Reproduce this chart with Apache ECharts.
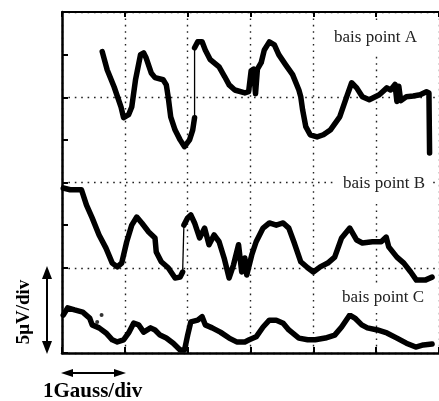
<!DOCTYPE html>
<html>
<head>
<meta charset="utf-8">
<script src="https://cdn.jsdelivr.net/npm/echarts@6/dist/echarts.min.js"></script>
<style>
  html, body { margin: 0; padding: 0; background: #fff; }
  #chart { width: 439px; height: 401px; }
</style>
</head>
<body>
<div id="chart"></div>
<script>
// x in field divisions (1 Gauss/div), y in signal divisions (5 uV/div)

// bias point A
const curveA1 = [
  [0.64, 7.07], [0.72, 6.64], [0.83, 6.24], [0.94, 5.77], [0.98, 5.52], [1.06, 5.59],
  [1.11, 5.77], [1.17, 6.41], [1.25, 7.00], [1.30, 7.04], [1.34, 6.92], [1.42, 6.57],
  [1.48, 6.46], [1.61, 6.41], [1.66, 6.29], [1.69, 6.01], [1.73, 5.54], [1.80, 5.23],
  [1.88, 5.00], [1.95, 4.84], [2.03, 5.00], [2.08, 5.23], [2.11, 5.52]
];
const jumpA = [[2.11, 5.52], [2.11, 7.16]];
const curveA2 = [
  [2.11, 7.16], [2.16, 7.30], [2.23, 7.30], [2.28, 7.11], [2.36, 6.88], [2.50, 6.71],
  [2.59, 6.48], [2.66, 6.29], [2.75, 6.17], [2.91, 6.10], [2.97, 6.13], [3.01, 6.62],
  [3.05, 6.66], [3.08, 6.08], [3.11, 6.66], [3.17, 6.81], [3.22, 7.11], [3.30, 7.30],
  [3.38, 7.23], [3.45, 7.00], [3.56, 6.76], [3.67, 6.53], [3.77, 6.17], [3.80, 6.01],
  [3.83, 5.70], [3.88, 5.31], [3.95, 5.12], [4.06, 5.07], [4.16, 5.12], [4.27, 5.23],
  [4.42, 5.54], [4.53, 6.01], [4.61, 6.34], [4.69, 6.22], [4.78, 6.01], [4.89, 5.94],
  [5.05, 6.06], [5.17, 6.22], [5.23, 6.17], [5.30, 6.30], [5.33, 5.90], [5.36, 6.26],
  [5.39, 5.92], [5.48, 6.01], [5.59, 6.03], [5.70, 6.06], [5.80, 6.13], [5.84, 6.10],
  [5.85, 4.69]
];

// bias point B
const curveB1 = [
  [0.02, 3.87], [0.13, 3.83], [0.31, 3.83], [0.39, 3.47], [0.48, 3.17], [0.59, 2.77],
  [0.70, 2.46], [0.80, 2.11], [0.88, 2.02], [0.95, 2.11], [1.03, 2.61], [1.11, 3.00],
  [1.19, 3.19], [1.27, 3.05], [1.38, 2.84], [1.48, 2.70], [1.50, 2.37], [1.58, 2.14],
  [1.69, 2.00], [1.80, 1.76], [1.88, 1.78], [1.92, 1.90]
];
const jumpB = [[1.92, 1.90], [1.94, 3.00]];
const curveB2 = [
  [1.94, 3.00], [2.00, 3.17], [2.05, 3.24], [2.11, 3.05], [2.19, 2.70], [2.27, 2.93],
  [2.34, 2.54], [2.42, 2.77], [2.50, 2.61], [2.58, 2.23], [2.66, 1.76], [2.73, 2.07],
  [2.81, 2.54], [2.86, 1.90], [2.91, 2.23], [2.94, 1.83], [3.02, 2.30], [3.09, 2.61],
  [3.20, 2.93], [3.30, 3.05], [3.41, 3.00], [3.52, 3.05], [3.61, 2.93], [3.69, 2.61],
  [3.80, 2.14], [3.91, 2.00], [4.00, 1.90], [4.11, 2.02], [4.23, 2.11], [4.34, 2.25],
  [4.45, 2.70], [4.58, 2.93], [4.69, 2.65], [4.78, 2.58], [4.94, 2.61], [5.08, 2.61],
  [5.16, 2.72], [5.20, 2.49], [5.33, 2.25], [5.44, 2.11], [5.55, 1.90], [5.64, 1.71],
  [5.78, 1.71], [5.89, 1.78]
];

// bias point C
const curveC = [
  [0.02, 0.89], [0.09, 1.06], [0.20, 1.01], [0.33, 0.96], [0.44, 0.82], [0.48, 0.66],
  [0.59, 0.59], [0.70, 0.47], [0.80, 0.31], [0.88, 0.26], [0.98, 0.31], [1.06, 0.47],
  [1.14, 0.70], [1.22, 0.66], [1.30, 0.49], [1.41, 0.59], [1.48, 0.54], [1.56, 0.42],
  [1.66, 0.35], [1.77, 0.23], [1.88, 0.07], [1.95, 0.07], [2.00, 0.42], [2.05, 0.73],
  [2.16, 0.77], [2.23, 0.85], [2.28, 0.66], [2.39, 0.59], [2.52, 0.49], [2.66, 0.35],
  [2.78, 0.26], [2.91, 0.26], [2.98, 0.31], [3.09, 0.38], [3.20, 0.61], [3.30, 0.77],
  [3.41, 0.77], [3.52, 0.70], [3.61, 0.54], [3.77, 0.35], [3.91, 0.31], [4.03, 0.31],
  [4.19, 0.35], [4.34, 0.42], [4.45, 0.61], [4.58, 0.89], [4.66, 0.82], [4.77, 0.66],
  [4.86, 0.59], [5.02, 0.54], [5.17, 0.47], [5.33, 0.35], [5.48, 0.23], [5.63, 0.14],
  [5.75, 0.19], [5.89, 0.21]
];
const strayC = [[0.63, 0.89], [0.56, 0.73]];

const curveLabels = ['bais point A', 'bais point B', 'bais point C'];
const yUnitLabel = '5\u03bcV/div';
const xUnitLabel = '1Gauss/div';

const chart = echarts.init(document.getElementById('chart'), null, { renderer: 'canvas' });

const dotted = { color: '#222', width: 1.4, type: [1.6, 4.8] };
const thick = (data) => ({
  type: 'line', data, showSymbol: false, silent: true,
  lineStyle: { color: '#000', width: 5.5, cap: 'round', join: 'round' }
});
const thin = (data) => ({
  type: 'line', data, showSymbol: false, silent: true,
  lineStyle: { color: '#000', width: 1.3 }
});

const serif = '"Liberation Serif", "DejaVu Serif", serif';
// white patch behind each curve label, as in the original figure
const labelBox = (x, y, w, h) => ({
  type: 'rect', shape: { x, y, width: w, height: h }, style: { fill: '#fff' }, z: 90
});
const labelText = (text, left, top) => ({
  type: 'text', left, top, z: 91,
  style: { text, font: '17px ' + serif, fill: '#222' }
});

chart.setOption({
  animation: false,
  backgroundColor: '#fff',
  grid: { left: 62, top: 12, width: 384, height: 341 },
  xAxis: [
    {
      type: 'value', min: 0, max: 6, interval: 1, position: 'bottom',
      axisLine: { show: true, lineStyle: { color: '#000', width: 2.5 } },
      axisTick: { show: true, inside: true, length: 6, lineStyle: { color: '#000', width: 2 } },
      axisLabel: { show: false },
      splitLine: { show: true, lineStyle: dotted }
    },
    {
      type: 'value', min: 0, max: 6, interval: 1, position: 'top',
      axisLine: { show: true, onZero: false, lineStyle: { color: '#000', width: 2 } },
      axisTick: { show: true, inside: true, length: 5, lineStyle: { color: '#000', width: 2 } },
      axisLabel: { show: false },
      splitLine: { show: false }
    }
  ],
  yAxis: {
    type: 'value', min: 0, max: 8, interval: 1,
    axisLine: { show: true, lineStyle: { color: '#000', width: 2.5 } },
    axisTick: { show: true, inside: true, length: 6, lineStyle: { color: '#000', width: 2 } },
    axisLabel: { show: false },
    splitLine: { show: true, lineStyle: { color: ['#222', 'rgba(0,0,0,0)'], width: 1.4, type: [1.6, 4.8] } }
  },
  series: [
    thick(curveA1), thin(jumpA), thick(curveA2),
    thick(curveB1), thin(jumpB), thick(curveB2),
    thick(curveC),
    { type: 'scatter', data: strayC, symbolSize: 4, itemStyle: { color: '#000' }, silent: true }
  ],
  graphic: [
    labelBox(330, 20, 96, 35), labelText(curveLabels[0], 334, 29),
    labelBox(334, 174, 98, 26), labelText(curveLabels[1], 343, 175),
    labelBox(334, 284, 98, 29), labelText(curveLabels[2], 342, 289),
    // vertical scale arrow
    { type: 'line', shape: { x1: 47, y1: 276, x2: 47, y2: 344 }, style: { stroke: '#000', lineWidth: 2 } },
    { type: 'polygon', shape: { points: [[47, 266], [42, 279], [52, 279]] }, style: { fill: '#000' } },
    { type: 'polygon', shape: { points: [[47, 354], [42, 341], [52, 341]] }, style: { fill: '#000' } },
    {
      type: 'text', x: 24, y: 312, rotation: Math.PI / 2,
      style: { text: yUnitLabel, font: 'bold 19px ' + serif, fill: '#000', align: 'center', verticalAlign: 'middle' }
    },
    // horizontal scale arrow
    { type: 'line', shape: { x1: 70, y1: 373, x2: 117, y2: 373 }, style: { stroke: '#000', lineWidth: 2 } },
    { type: 'polygon', shape: { points: [[61, 373], [73, 369], [73, 377]] }, style: { fill: '#000' } },
    { type: 'polygon', shape: { points: [[126, 373], [114, 369], [114, 377]] }, style: { fill: '#000' } },
    {
      type: 'text', x: 43, y: 392,
      style: { text: xUnitLabel, font: 'bold 21px ' + serif, fill: '#000', align: 'left', verticalAlign: 'middle' }
    }
  ]
});
</script>
</body>
</html>
